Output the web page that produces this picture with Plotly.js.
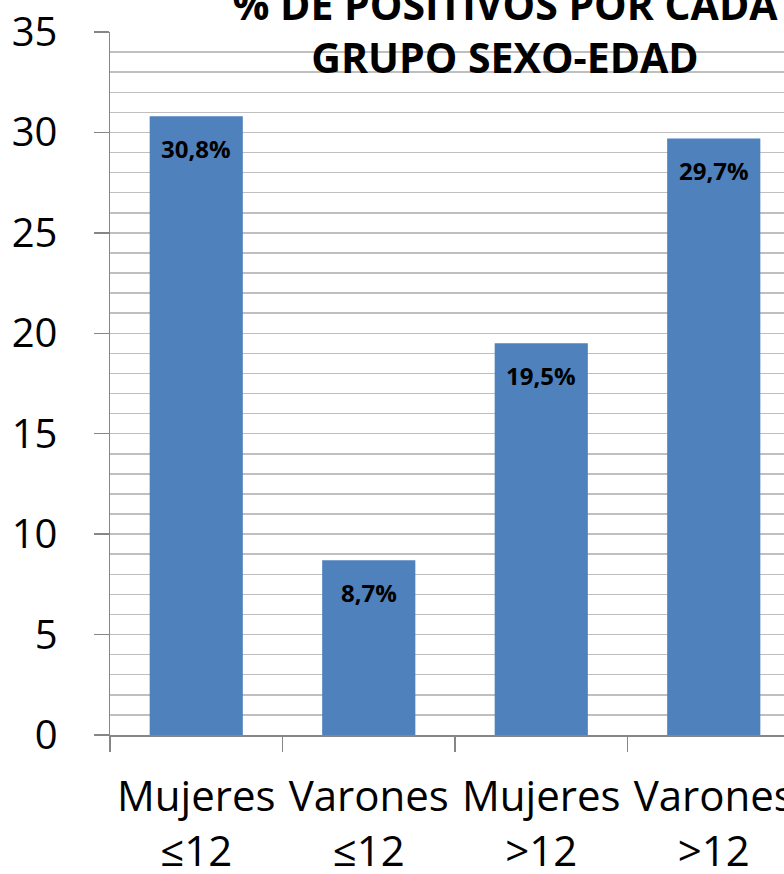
<!DOCTYPE html>
<html>
<head>
<meta charset="utf-8">
<script src="https://cdn.plot.ly/plotly-3.0.1.min.js"></script>
<style>
html, body { margin: 0; padding: 0; overflow: hidden; background: #fff; width: 784px; height: 874px; }
#chart { width: 800px; height: 874px; }
</style>
</head>
<body>
<div id="chart"></div>
<script>
const categories = ["Mujeres<br>≤12", "Varones<br>≤12", "Mujeres<br>>12", "Varones<br>>12"];
const values = [30.8, 8.7, 19.5, 29.7];
const yTicks = [0, 5, 10, 15, 20, 25, 30, 35];
const titleText = "% DE POSITIVOS POR CADA<br>GRUPO SEXO-EDAD";

const fontFam = "'Open Sans', 'Noto Sans', sans-serif";
const labels = values.map(v => v.toFixed(1).replace('.', ',') + '%');

const trace = {
  type: 'bar',
  x: categories,
  y: values,
  marker: { color: '#4f81bd', line: { width: 0 } },
  hoverinfo: 'none'
};

const annotations = values.map((v, i) => ({
  x: categories[i], y: v, xref: 'x', yref: 'y',
  text: '<b>' + labels[i] + '</b>',
  showarrow: false, yanchor: 'top', yshift: -14,
  font: { family: fontFam, size: 24, color: '#000' }
}));

const layout = {
  width: 800, height: 874,
  margin: { l: 110, r: 0, t: 32, b: 139 },
  paper_bgcolor: '#fff', plot_bgcolor: '#fff',
  showlegend: false,
  bargap: 0.46,
  font: { family: fontFam, color: '#000' },
  title: {
    text: '<b>' + titleText + '</b>',
    font: { family: fontFam, size: 41, color: '#000' },
    x: 505 / 800, xanchor: 'center', xref: 'container',
    y: 1 - 20 / 874, yanchor: 'middle', yref: 'container'
  },
  xaxis: {
    type: 'category',
    showline: true, linecolor: '#868686', linewidth: 1.5,
    ticks: 'outside', ticklen: 15, tickcolor: '#868686', tickwidth: 1.5,
    tickson: 'boundaries',
    showgrid: false,
    tickfont: { family: fontFam, size: 42, color: '#000' },
    ticklabelstandoff: 24,
    fixedrange: true
  },
  yaxis: {
    range: [0, 35],
    tickvals: yTicks,
    ticktext: yTicks.map(String),
    showline: true, linecolor: '#868686', linewidth: 1.5,
    ticks: 'outside', ticklen: 15, tickcolor: '#868686', tickwidth: 1.5,
    showgrid: true, gridcolor: '#bfbfbf', gridwidth: 1.5,
    minor: { dtick: 1, showgrid: true, gridcolor: '#bfbfbf', gridwidth: 1.5, ticks: '' },
    zeroline: false,
    tickfont: { family: fontFam, size: 40, color: '#000' },
    ticklabelstandoff: 28,
    fixedrange: true
  },
  annotations: annotations
};

Plotly.newPlot('chart', [trace], layout, { displayModeBar: false, staticPlot: true });
</script>
</body>
</html>
